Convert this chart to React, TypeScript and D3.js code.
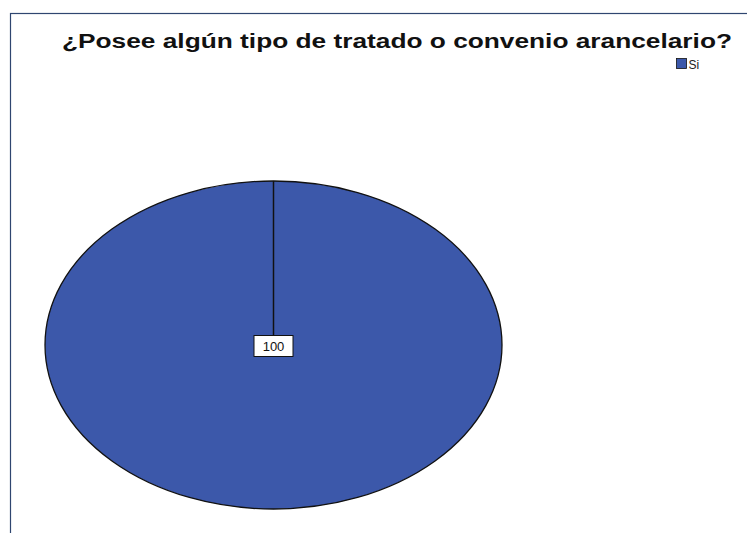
import React, { useEffect, useRef } from 'react';
import * as d3 from 'd3';

// Chart data
const categories = ['Si'];
const values = [100];
const colors = ['#3c58aa'];
const title = '¿Posee algún tipo de tratado o convenio arancelario?';

const App: React.FC = () => {
  const ref = useRef<SVGSVGElement | null>(null);

  useEffect(() => {
    const root = d3.select(ref.current);
    root.selectAll('*').remove();

    const width = 747;
    const height = 533;

    const svg = root.attr('width', width).attr('height', height);

    svg.append('rect').attr('width', width).attr('height', height).attr('fill', '#fff');

    // Outer frame (runs off the right and bottom edges)
    svg
      .append('rect')
      .attr('x', 10.5)
      .attr('y', 13.5)
      .attr('width', 760)
      .attr('height', 540)
      .attr('fill', 'none')
      .attr('stroke', '#2f4670')
      .attr('stroke-width', 1.2);

    // Title (stretched horizontally like the source image)
    svg
      .append('text')
      .attr('x', 62)
      .attr('y', 48)
      .attr('textLength', 670)
      .attr('lengthAdjust', 'spacingAndGlyphs')
      .attr('font-family', 'Liberation Sans, Arial, sans-serif')
      .attr('font-weight', 'bold')
      .attr('font-size', 20)
      .attr('fill', '#111')
      .text(title);

    // Legend
    const legend = svg.append('g').attr('transform', 'translate(676,58)');
    categories.forEach((c, i) => {
      const g = legend.append('g').attr('transform', `translate(0,${i * 14})`);
      g.append('rect')
        .attr('x', 0.5)
        .attr('y', 0.5)
        .attr('width', 10)
        .attr('height', 10)
        .attr('fill', colors[i])
        .attr('stroke', '#111')
        .attr('stroke-width', 0.8);
      g.append('text')
        .attr('x', 12.5)
        .attr('y', 10.5)
        .attr('font-family', 'Liberation Sans, Arial, sans-serif')
        .attr('font-size', 12)
        .attr('fill', '#222')
        .text(c);
    });

    // Pie (drawn as ellipse)
    const cx = 273.5;
    const cy = 345;
    const rx = 228.5;
    const ry = 164;

    const pie = d3
      .pie<number>()
      .sort(null)
      .value((d) => d);
    const arcs = pie(values);
    const arc = d3.arc<d3.PieArcDatum<number>>().innerRadius(0).outerRadius(rx);

    const pg = svg.append('g').attr('transform', `translate(${cx},${cy}) scale(1,${ry / rx})`);

    pg.selectAll('path.slice')
      .data(arcs)
      .enter()
      .append('path')
      .attr('class', 'slice')
      .attr('d', (d) => arc(d) || '')
      .attr('fill', (d, i) => colors[i])
      .attr('stroke', '#111')
      .attr('stroke-width', 1.3)
      .attr('vector-effect', 'non-scaling-stroke');

    // Slice boundary line from center to start angle
    arcs.forEach((d) => {
      const a = d.startAngle;
      pg.append('line')
        .attr('x1', 0)
        .attr('y1', 0)
        .attr('x2', Math.sin(a) * rx)
        .attr('y2', -Math.cos(a) * rx)
        .attr('stroke', '#111')
        .attr('stroke-width', 1.5)
        .attr('vector-effect', 'non-scaling-stroke');
    });

    // Value label box
    arcs.forEach((d) => {
      const lbl = svg.append('g').attr('transform', `translate(${cx},${cy + 1})`);
      lbl
        .append('rect')
        .attr('x', -19.5)
        .attr('y', -10.5)
        .attr('width', 39)
        .attr('height', 21)
        .attr('fill', '#fff')
        .attr('stroke', '#111')
        .attr('stroke-width', 1);
      lbl
        .append('text')
        .attr('x', 0)
        .attr('y', 5)
        .attr('text-anchor', 'middle')
        .attr('font-family', 'Liberation Sans, Arial, sans-serif')
        .attr('font-size', 13)
        .attr('fill', '#111')
        .text(String(d.data));
    });
  }, []);

  return <svg ref={ref} style={{ position: 'absolute', left: 0, top: 0 }}></svg>;
};

export default App;
